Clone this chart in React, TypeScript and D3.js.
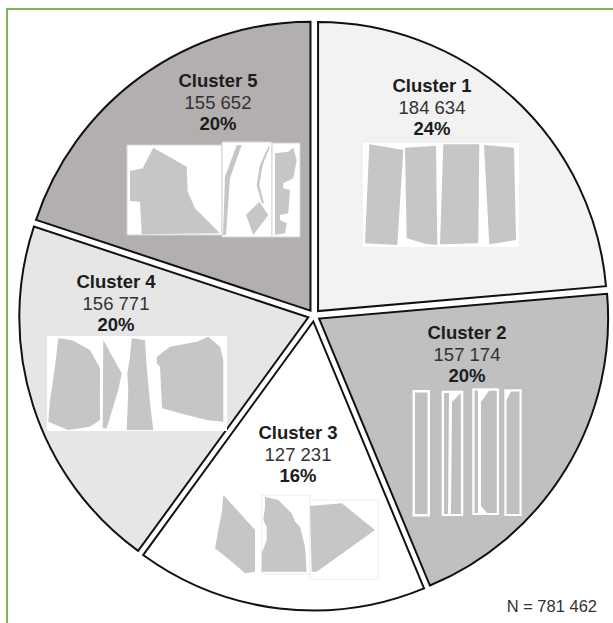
import * as d3 from 'd3'

const W = 613, H = 623
const CX = 314, CY = 315.5, R = 289, EXPLODE = 6

// ── data ──────────────────────────────────────────────────────────────
const CLUSTERS = ['Cluster 1', 'Cluster 2', 'Cluster 3', 'Cluster 4', 'Cluster 5']
const COUNTS   = [184634, 157174, 127231, 156771, 155652]
const TOTAL    = d3.sum(COUNTS)

// ── styles / layout ───────────────────────────────────────────────────
const FILLS     = ['#f2f2f2', '#c0c0c0', '#ffffff', '#e6e6e6', '#b3afae']
const LABEL_POS = [[432, 92], [467, 339], [298, 439], [116, 288], [218, 87]]
const THUMB_POS = [[363, 143], [412, 388], [212, 494], [47, 336], [127, 141]]
const FONT = 'Liberation Sans, Arial, Helvetica, sans-serif'
const SHAPE_GRAY = '#c6c6c6'

type Pt = [number, number]
type Thumb = { panels: number[][]; panelStroke?: string; shapes: Pt[][]; shapeFill?: string }

// little silhouette thumbnails drawn inside each slice (decoration)
const THUMBS: Thumb[] = [
  {
    panels: [[0, 0, 156, 104]],
    shapes: [
      [[6.3, 1.3], [40.3, 7], [34.3, 102], [2, 100.3]],
      [[42, 4.7], [73, 2.7], [74.3, 102], [63, 101], [43.7, 95.3]],
      [[80.3, 1.3], [116.3, 1.3], [115.3, 100.3], [77, 101.3]],
      [[121, 2], [151, 4.7], [153, 97], [126.3, 101.3]],
    ],
  },
  {
    panels: [[0.5, 2, 17.5, 126.5], [29.7, 2.7, 21.6, 125.3], [60.3, 0.3, 26.7, 126.7], [92.3, 1.3, 17.4, 126.7]],
    shapeFill: '#c0c0c0',
    shapes: [
      [[3, 4.5], [15.5, 4.5], [15.5, 126], [3, 126]],
      [[32, 5], [37, 5], [36, 126], [32, 126]],
      [[40, 14], [48.8, 5], [49, 126], [39, 126]],
      [[62.5, 2.5], [66, 2.5], [66, 125], [62.5, 125]],
      [[69, 14], [77, 2.8], [84.8, 2.8], [84.8, 125], [75, 125], [69, 118]],
      [[94.5, 12], [99, 3.5], [107.5, 3.5], [107.5, 126], [94.5, 126]],
    ],
  },
  {
    panels: [[49.7, 1, 48.3, 79], [98, 6, 68.3, 79.3]],
    panelStroke: '#ededed',
    shapes: [
      [[11.3, 1], [28, 19.3], [43, 36], [43, 77.7], [33, 79.3], [19.7, 67.7], [3, 54.3], [6.3, 36], [9.7, 19.3]],
      [[53, 2.7], [66.3, 6], [79.7, 19.3], [83, 27.7], [88, 32.7], [93, 52.7], [94.7, 77.7], [49.7, 77.7],
       [49.7, 59.3], [54.7, 46], [54.7, 32.7], [51.3, 26], [53, 12.7]],
      [[98, 12], [129.7, 9.3], [163, 36], [104.7, 77.7], [99.7, 77.7]],
    ],
  },
  {
    panels: [[0, 0, 180, 95]],
    shapes: [
      [[11.3, 2.3], [24.7, 4], [43, 14], [53, 32.3], [53, 84], [43, 90.7], [21.3, 94], [1.3, 85.7], [3, 64], [8, 30.7]],
      [[56.3, 4], [66.3, 22.3], [74.7, 37.3], [71.3, 54], [59.7, 92.3], [55.7, 92.3]],
      [[84.7, 2.3], [98, 4], [99.7, 30.7], [103, 67.3], [106.3, 94], [79.7, 94], [81.3, 54], [80.3, 37.3], [83, 20.7]],
      [[109.7, 20.7], [123, 10.7], [149.7, 5.7], [161.3, 0.7], [173, 10.7], [176.3, 24], [176.3, 85.7], [159.7, 84],
       [133, 77.3], [115, 72.3], [113, 30.7], [109.7, 27.3]],
    ],
  },
  {
    panels: [[0, 4, 95, 90], [95, 1, 50, 95], [145, 2, 28, 94]],
    panelStroke: '#d4d4d4',
    shapes: [
      [[3, 30], [15.7, 27.3], [26.3, 6.7], [59.7, 25.7], [60.7, 50.7], [68, 67.3], [93, 92.3], [14.7, 93.3], [13, 60.7], [3, 60]],
      [[99, 94], [103, 37.3], [114.7, 4], [109.7, 4], [98, 35.7], [96, 94]],
      [[141.3, 5.7], [133, 24], [129.7, 44], [134.7, 62.3], [137, 62.3], [132.3, 44], [135.7, 24], [143, 5.7]],
      [[119, 74], [132.3, 60.7], [141.3, 74], [126.3, 94]],
      [[148, 12.3], [161.3, 10.7], [166.3, 6.7], [169.7, 19], [166.3, 37.3], [156.3, 42.3], [156.3, 47.3], [163, 49],
       [161.3, 72.3], [153, 74], [153, 79], [159.7, 82.3], [158, 92.3], [148, 94]],
    ],
  },
]

const fmtCount = d3.formatLocale({ decimal: '.', thousands: ' ', grouping: [3], currency: ['', ''] }).format(',')

export default function App() {
  const pie = d3.pie<number>().sort(null).value(d => d).startAngle(0).endAngle(2 * Math.PI)
  const arcs = pie(COUNTS)
  const arc = d3.arc<d3.PieArcDatum<number>>().innerRadius(0).outerRadius(R)
  const line = d3.line<Pt>().curve(d3.curveLinearClosed)

  return (
    <svg width={W} height={H} viewBox={`0 0 ${W} ${H}`}
      style={{ position: 'absolute', left: 0, top: 0, display: 'block', background: '#fff' }}>
      <rect x={7} y={9} width={W + 20} height={H + 20} fill="#fff" stroke="#7cb65a" strokeWidth={2} />

      <g transform={`translate(${CX},${CY})`}>
        {arcs.map((a, i) => {
          const mid = (a.startAngle + a.endAngle) / 2
          const dx = EXPLODE * Math.sin(mid), dy = -EXPLODE * Math.cos(mid)
          return (
            <path key={i} d={arc(a) ?? ''} transform={`translate(${dx},${dy})`}
              fill={FILLS[i]} stroke="#111" strokeWidth={2} strokeLinejoin="miter" />
          )
        })}
      </g>

      {THUMBS.map((t, i) => (
        <g key={`t${i}`} transform={`translate(${THUMB_POS[i][0]},${THUMB_POS[i][1]})`}>
          {t.panels.map((p, j) => (
            <rect key={j} x={p[0]} y={p[1]} width={p[2]} height={p[3]} fill="#fff"
              stroke={t.panelStroke ?? 'none'} strokeWidth={1} />
          ))}
          {t.shapes.map((s, j) => (
            <path key={j} d={line(s) ?? ''} fill={t.shapeFill ?? SHAPE_GRAY} />
          ))}
        </g>
      ))}

      {CLUSTERS.map((c, i) => {
        const [x, y] = LABEL_POS[i]
        return (
          <g key={c} fontFamily={FONT} fontSize={18.5} textAnchor="middle">
            <text x={x} y={y} fontWeight="bold" fill="#1c1c1c">{c}</text>
            <text x={x} y={y + 21.5} fill="#333">{fmtCount(COUNTS[i])}</text>
            <text x={x} y={y + 43} fontWeight="bold" fill="#1c1c1c">{`${Math.round(COUNTS[i] / TOTAL * 100)}%`}</text>
          </g>
        )
      })}

      <text x={597} y={612} textAnchor="end" fontFamily={FONT} fontSize={16.5} fill="#333">
        {`N = ${fmtCount(TOTAL)}`}
      </text>
    </svg>
  )
}
